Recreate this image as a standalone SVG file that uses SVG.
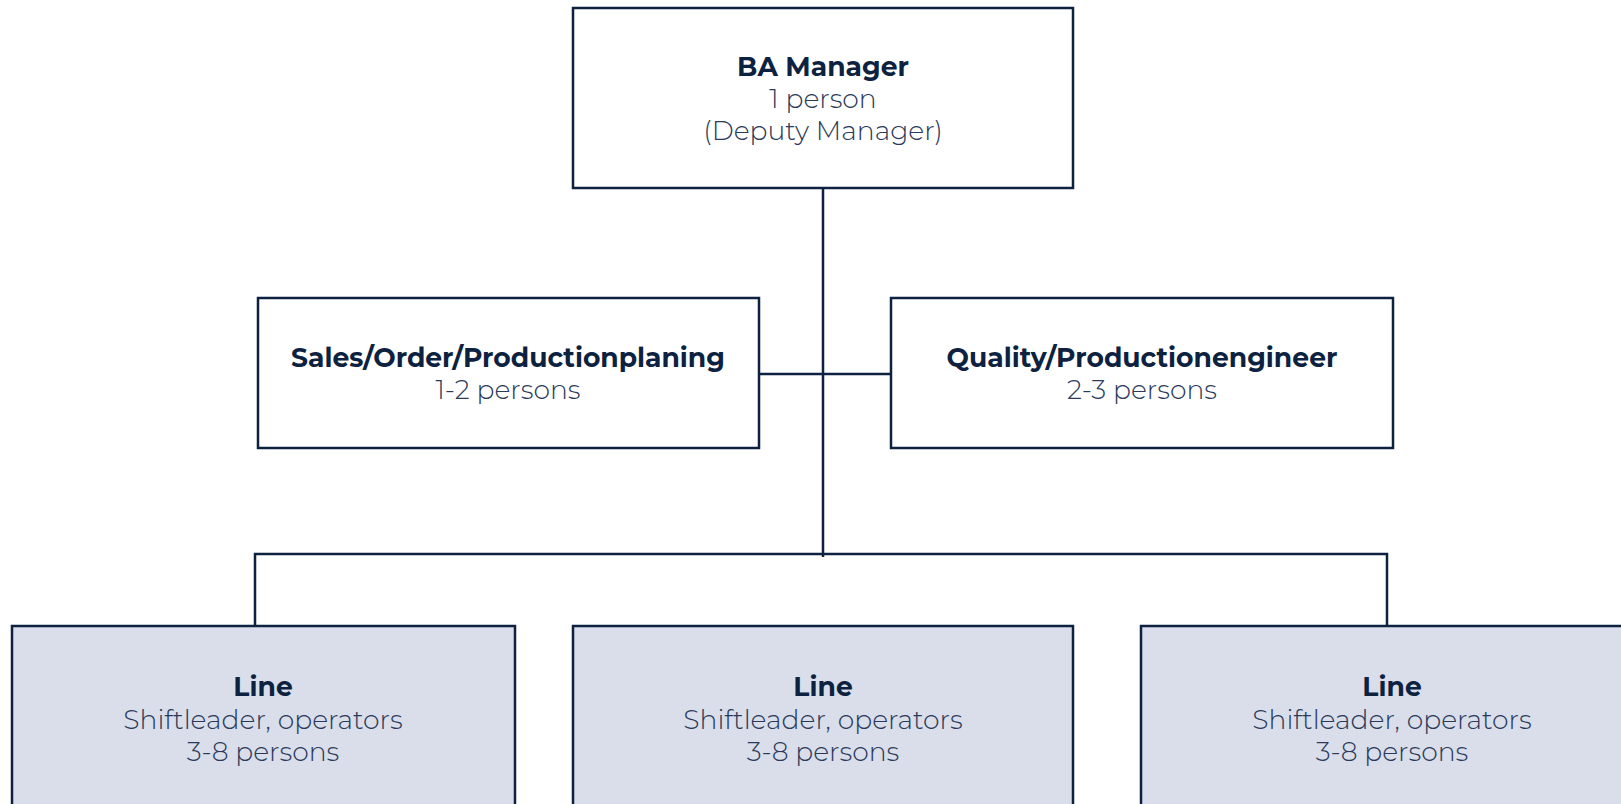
<svg xmlns="http://www.w3.org/2000/svg" width="1621" height="804" viewBox="0 0 1621 804">
<style>
.box{fill:#ffffff;stroke:#0d2240;stroke-width:2.5}
.line{fill:#d9deea;stroke:#0d2240;stroke-width:2.5}
.conn{fill:none;stroke:#0d2240;stroke-width:2.5}
text{font-family:Montserrat,Inter,"Open Sans","Liberation Sans",sans-serif;font-size:26.6px;text-anchor:middle}
.b{font-weight:700;fill:#0d2240}
.r{font-weight:300;fill:#2b3a5a}
</style>
<rect width="1621" height="804" fill="#ffffff"/>
<g id="connectors">
<path class="conn" d="M823 188V557"/>
<path class="conn" d="M759 374H891"/>
<path class="conn" d="M255 626V554H1387V626"/>
</g>
<g id="ba-manager">
<rect class="box" x="573" y="8" width="500" height="180"/>
<text class="b" x="823" y="76">BA Manager</text>
<text class="r" x="823" y="108">1 person</text>
<text class="r" x="823" y="140">(Deputy Manager)</text>
</g>
<g id="sales">
<rect class="box" x="258" y="298" width="501" height="150"/>
<text class="b" x="508" y="367">Sales/Order/Productionplaning</text>
<text class="r" x="508" y="399">1-2 persons</text>
</g>
<g id="quality">
<rect class="box" x="891" y="298" width="502" height="150"/>
<text class="b" x="1142" y="367">Quality/Productionengineer</text>
<text class="r" x="1142" y="399">2-3 persons</text>
</g>
<g id="line1">
<rect class="line" x="12" y="626" width="503" height="200"/>
<text class="b" x="263" y="696">Line</text>
<text class="r" x="263" y="729">Shiftleader, operators</text>
<text class="r" x="263" y="761">3-8 persons</text>
</g>
<g id="line2">
<rect class="line" x="573" y="626" width="500" height="200"/>
<text class="b" x="823" y="696">Line</text>
<text class="r" x="823" y="729">Shiftleader, operators</text>
<text class="r" x="823" y="761">3-8 persons</text>
</g>
<g id="line3">
<rect class="line" x="1141" y="626" width="502" height="200"/>
<text class="b" x="1392" y="696">Line</text>
<text class="r" x="1392" y="729">Shiftleader, operators</text>
<text class="r" x="1392" y="761">3-8 persons</text>
</g>
</svg>
